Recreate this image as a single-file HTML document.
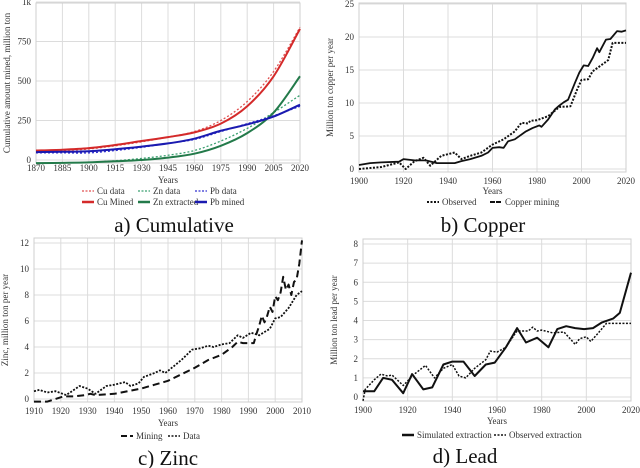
<!DOCTYPE html>
<html><head><meta charset="utf-8"><style>
body{margin:0;background:#fff}
svg{display:block;font-family:"Liberation Serif",serif}
</style></head><body>
<svg id="s" width="640" height="468" viewBox="0 0 640 468"></svg>
<script>
// ---- Panel a: cumulative ----
const aYears=[1870,1885,1900,1915,1930,1945,1960,1975,1990,2005,2020];
const aCuData=[55,60,70,90,115,145,180,250,370,560,840];
const aCuMined=[60,65,75,95,120,145,175,230,340,530,830];
const aZnData=[-20,-18,-15,-5,10,30,60,120,200,300,410];
const aZnExt=[-20,-18,-15,-8,0,15,40,90,170,300,530];
const aPbData=[45,45,45,60,80,105,130,180,230,280,340];
const aPbMined=[50,52,55,68,85,105,135,185,225,275,350];
const aXTicks=[1870,1885,1900,1915,1930,1945,1960,1975,1990,2005,2020];
const aYTicks=[0,250,500,750,1000];
const aYLabels=["0","250","500","750","1k"];
// ---- Panel b: copper ----
const bObsYears=[1900,1910,1918,1921,1925,1929,1932,1937,1943,1946,1950,1955,1960,1965,1970,1973,1976,1977,1980,1985,1990,1995,1998,2000,2003,2005,2010,2012,2014,2020];
const bObs=[0,0.3,1,0,1.2,1.7,0.5,2,2.5,1.5,2,2.5,3.7,4.5,5.7,7,6.9,7.3,7.4,8,9.4,9.5,12,13.5,13.6,14.8,16,16.5,19.1,19.1];
const bMinYears=[1900,1905,1910,1918,1920,1925,1930,1935,1943,1946,1950,1955,1958,1960,1963,1965,1967,1970,1975,1978,1981,1982,1985,1988,1990,1992,1994,1997,1999,2001,2003,2005,2007,2008,2011,2013,2016,2018,2020];
const bMin=[0.6,0.9,1.0,1.1,1.5,1.3,1.3,0.9,0.9,1.2,1.5,2.0,2.5,3.2,3.3,3.2,4.2,4.5,5.7,6.2,6.6,6.4,7.5,9.0,9.6,10.1,10.5,13,14.6,15.7,15.6,16.8,18.3,17.7,19.6,19.7,20.9,20.8,21];
const bXTicks=[1900,1920,1940,1960,1980,2000,2020];
const bYTicks=[0,5,10,15,20,25];
// ---- Panel c: zinc ----
const cDataYears=[1910,1912,1915,1918,1922,1927,1930,1933,1937,1940,1944,1946,1949,1951,1955,1957,1959,1962,1965,1969,1972,1975,1977,1980,1983,1986,1988,1991,1994,1998,2000,2002,2005,2008,2010];
const cData=[0.6,0.7,0.5,0.6,0.3,1.0,0.8,0.4,1.0,1.1,1.3,1.0,1.2,1.7,2.0,2.2,2.0,2.5,3.0,3.8,3.9,4.1,4.0,4.2,4.3,4.9,4.7,5.1,4.9,5.4,6.2,6.3,7.0,8.0,8.3];
const cMinYears=[1910,1915,1918,1921,1925,1929,1931,1933,1940,1945,1950,1955,1960,1965,1970,1975,1980,1984,1986,1988,1992,1993,1994,1995,1996,1997,1998,1999,2000,2001,2002,2003,2004,2005,2006,2007,2008,2009,2010];
const cMin=[-0.2,-0.2,0,0.2,0.2,0.3,0.4,0.3,0.4,0.6,0.8,1.1,1.4,1.9,2.4,3.0,3.4,4.0,4.4,4.3,4.3,5.0,5.6,6.4,5.9,6.4,7.1,6.7,7.9,7.6,8.2,9.4,8.4,8.8,8.0,9.0,9.2,10.4,12.2];
const cXTicks=[1910,1920,1930,1940,1950,1960,1970,1980,1990,2000,2010];
const cYTicks=[0,2,4,6,8,10,12];
// ---- Panel d: lead ----
const dSimYears=[1900,1905,1909,1913,1918,1922,1927,1931,1936,1940,1945,1950,1955,1959,1964,1969,1973,1978,1983,1987,1991,1995,1999,2003,2007,2012,2015,2020];
const dSim=[0.3,0.3,1.0,0.9,0.2,1.2,0.4,0.5,1.7,1.85,1.85,1.1,1.7,1.8,2.6,3.6,2.85,3.1,2.6,3.55,3.7,3.6,3.55,3.6,3.9,4.1,4.4,6.5];
const dObsYears=[1900,1901,1905,1908,1911,1913,1918,1923,1928,1932,1936,1940,1943,1946,1950,1955,1957,1960,1964,1968,1969,1974,1976,1978,1980,1985,1990,1995,1997,2000,2002,2005,2009,2020];
const dObs=[-0.2,0.4,0.9,1.2,1.1,1.15,0.6,1.2,1.65,1.0,1.5,1.7,1.1,1.0,1.5,1.95,2.4,2.35,2.6,3.3,3.45,3.45,3.65,3.45,3.5,3.35,3.4,2.75,3.05,3.15,2.9,3.3,3.85,3.85];
const dXTicks=[1900,1920,1940,1960,1980,2000,2020];
const dYTicks=[0,1,2,3,4,5,6,7,8];

const S=document.getElementById('s');
const NS='http://www.w3.org/2000/svg';
function mk(tag,attrs,parent){const e=document.createElementNS(NS,tag);for(const k in attrs)e.setAttribute(k,attrs[k]);(parent||S).appendChild(e);return e;}
function txt(x,y,t,size,anchor,parent,name){const e=mk('text',{x:x,y:y,'font-size':size,'text-anchor':anchor||'middle',fill:'#333'},parent);e.textContent=t;


return e;}
function scale(d0,d1,r0,r1){return v=>r0+(v-d0)*(r1-r0)/(d1-d0);}
function linePath(xs,ys,X,Y,smooth){const p=xs.map((v,i)=>[X(v),Y(ys[i])]);
 if(!smooth)return 'M'+p.map(q=>q[0].toFixed(1)+','+q[1].toFixed(1)).join('L');
 let d='M'+p[0][0]+','+p[0][1];
 for(let i=0;i<p.length-1;i++){const p0=p[i-1]||p[i],p1=p[i],p2=p[i+1],p3=p[i+2]||p2;
  d+='C'+(p1[0]+(p2[0]-p0[0])/6)+','+(p1[1]+(p2[1]-p0[1])/6)+' '+(p2[0]-(p3[0]-p1[0])/6)+','+(p2[1]-(p3[1]-p1[1])/6)+' '+p2[0]+','+p2[1];}
 return d;}
function panel(cfg){
 const g=mk('g',{});
 
 
 const X=scale(cfg.x0,cfg.x1,cfg.L,cfg.R),Y=scale(cfg.y0,cfg.y1,cfg.yb,cfg.yTop);
 const grid=mk('g',{stroke:'#dcdcdc','stroke-width':1},g);
 
 
 cfg.xt.forEach(v=>{mk('line',{x1:X(v),x2:X(v),y1:cfg.T,y2:cfg.B},grid);
  txt(X(v),cfg.xly,String(v),9,'middle',g,'x-tick-label');});
 cfg.yt.forEach((v,i)=>{mk('line',{x1:cfg.L,x2:cfg.R,y1:Y(v),y2:Y(v)},grid);
  txt(cfg.L-5,Y(v)+3,cfg.yl?cfg.yl[i]:String(v),9,'end',g,'y-tick-label');});
 const fr=mk('rect',{x:cfg.L,y:cfg.T,width:cfg.R-cfg.L,height:cfg.B-cfg.T,fill:'none',stroke:'#cfcfcf'},g);
 
 
 cfg.series.forEach(s=>{const p=mk('path',{d:linePath(s.x,s.y,X,Y,cfg.smooth),fill:'none',stroke:s.c,'stroke-width':s.w,'stroke-dasharray':s.dash||'none','stroke-linejoin':'round'},g);
  
  });
 txt((cfg.L+cfg.R)/2,cfg.yearsY,'Years',9,'middle',g,'x-axis-title');
 const yt=txt(0,0,cfg.ytitle,9,'middle',g,'y-axis-title');
 yt.setAttribute('transform','translate('+cfg.ytx+','+((cfg.T+cfg.B)/2)+') rotate(-90)');
 cfg.legend.forEach(l=>{const lg=mk('g',{},g);
  
  
  mk('line',{x1:l.x,x2:l.x+12,y1:l.y-3,y2:l.y-3,stroke:l.c,'stroke-width':l.w,'stroke-dasharray':l.dash||'none'},lg);
  txt(l.x+15,l.y,l.t,9,'start',lg,'legend-label');});
 txt(cfg.titleX,cfg.titleY,cfg.title,21,'middle',g,'panel-title').setAttribute('fill','#111');
}
panel({name:'cumulative-chart',x0:1870,x1:2020,L:36,R:300,T:3,B:163,y0:0,y1:1000,yb:160,yTop:2,xt:aXTicks,yt:aYTicks,yl:aYLabels,xly:171,yearsY:183,smooth:true,
 ytitle:'Cumulative amount mined, million ton',ytx:10,title:'a) Cumulative',titleX:174,titleY:232,
 series:[{n:'cu-data-line',x:aYears,y:aCuData,c:'#e05050',w:1.3,dash:'2,2'},{n:'cu-mined-line',x:aYears,y:aCuMined,c:'#d42a2a',w:2},
  {n:'zn-data-line',x:aYears,y:aZnData,c:'#3aa070',w:1.3,dash:'2,2'},{n:'zn-extracted-line',x:aYears,y:aZnExt,c:'#237a4a',w:2},
  {n:'pb-data-line',x:aYears,y:aPbData,c:'#3030d0',w:1.3,dash:'2,2'},{n:'pb-mined-line',x:aYears,y:aPbMined,c:'#1a1ab0',w:2}],
 legend:[{x:82,y:194,t:'Cu data',c:'#e05050',w:1.3,dash:'2,1.5'},{x:138,y:194,t:'Zn data',c:'#3aa070',w:1.3,dash:'2,1.5'},{x:195,y:194,t:'Pb data',c:'#3030d0',w:1.3,dash:'2,1.5'},
  {x:82,y:205,t:'Cu Mined',c:'#d42a2a',w:2.5},{x:138,y:205,t:'Zn extracted',c:'#237a4a',w:2.5},{x:195,y:205,t:'Pb mined',c:'#1a1ab0',w:2.5}]});
panel({name:'copper-chart',x0:1900,x1:2020,L:359,R:626,T:3,B:172,y0:0,y1:25,yb:169,yTop:4,xt:bXTicks,yt:bYTicks,xly:184,yearsY:194,smooth:false,
 ytitle:'Million ton copper per year',ytx:333,title:'b) Copper',titleX:483,titleY:232,
 series:[{n:'observed-line',x:bObsYears,y:bObs,c:'#111',w:2,dash:'2,1.5'},{n:'copper-mining-line',x:bMinYears,y:bMin,c:'#111',w:1.8}],
 legend:[{x:427,y:205,t:'Observed',c:'#111',w:2,dash:'2,1.5'},{x:490,y:205,t:'Copper mining',c:'#111',w:2,dash:'5,1'}]});
panel({name:'zinc-chart',x0:1910,x1:2010,L:34,R:302,T:238,B:402,y0:0,y1:12,yb:399,yTop:243,xt:cXTicks,yt:cYTicks,xly:414,yearsY:426,smooth:false,
 ytitle:'Zinc, million ton per year',ytx:8,title:'c) Zinc',titleX:168,titleY:465,
 series:[{n:'data-line',x:cDataYears,y:cData,c:'#111',w:1.8,dash:'2,1.5'},{n:'mining-line',x:cMinYears,y:cMin,c:'#111',w:2,dash:'7,4'}],
 legend:[{x:121,y:439,t:'Mining',c:'#111',w:2,dash:'6,3'},{x:168,y:439,t:'Data',c:'#111',w:1.5,dash:'2,1.5'}]});
panel({name:'lead-chart',x0:1900,x1:2020,L:363,R:631,T:239,B:401,y0:0,y1:8,yb:397,yTop:244,xt:dXTicks,yt:dYTicks,xly:413,yearsY:424,smooth:false,
 ytitle:'Million ton lead per year',ytx:337,title:'d) Lead',titleX:465,titleY:463,
 series:[{n:'observed-extraction-line',x:dObsYears,y:dObs,c:'#111',w:1.5,dash:'2,1.5'},{n:'simulated-extraction-line',x:dSimYears,y:dSim,c:'#111',w:2}],
 legend:[{x:402,y:438,t:'Simulated extraction',c:'#111',w:2.5},{x:494,y:438,t:'Observed extraction',c:'#111',w:1.5,dash:'2,1.5'}]});
</script>
</body></html>
